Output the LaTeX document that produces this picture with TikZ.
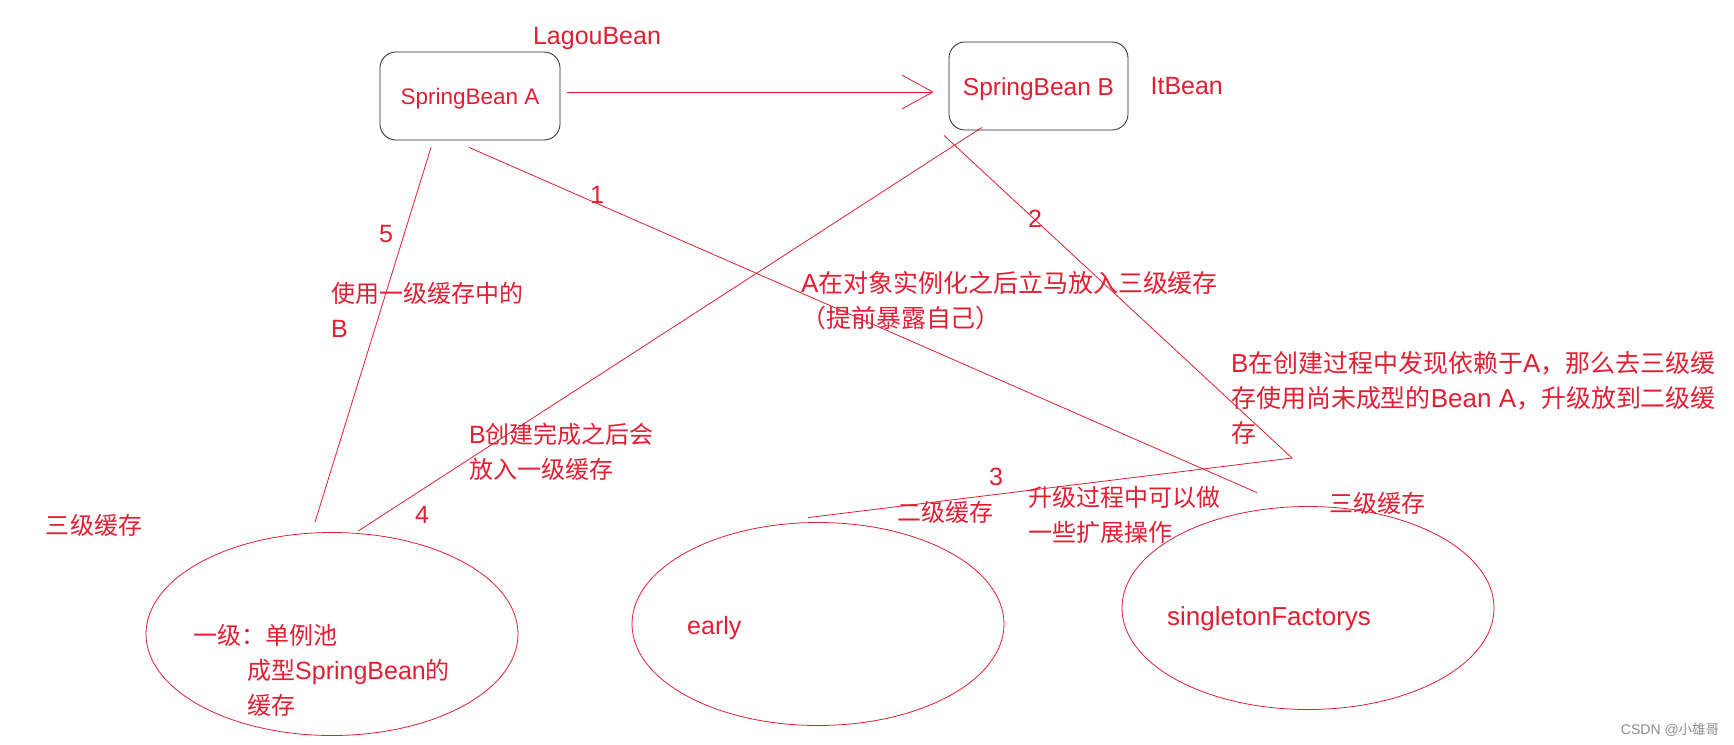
\documentclass[tikz,border=0pt]{standalone}
\usepackage{fontspec}
\setmainfont{Liberation Sans}
\newfontfamily\cjkfont[Scale=0.96]{Noto Sans CJK SC}
\newcommand{\zh}[1]{{\cjkfont #1}}
\usetikzlibrary{positioning,shapes.geometric,arrows.meta}
\definecolor{inkred}{RGB}{226,30,50}

\begin{document}
\begin{tikzpicture}[x=1pt, y=-1pt,
    every node/.style={font=\fontsize{25}{35}\selectfont, text=inkred, inner sep=0pt},
    bean/.style={draw=black!85, line width=0.8pt, rounded corners=16pt, minimum width=180pt, minimum height=88pt, font=\fontsize{22.5}{27}\selectfont, text height=21pt, text depth=4.7pt},
    pool/.style={draw=inkred, line width=0.8pt, ellipse, minimum width=372pt, minimum height=203pt},
    txt/.style={align=left, anchor=west},
    big/.style={font=\fontsize{26}{35}\selectfont},
    ln/.style={draw=inkred, line width=0.8pt}]
  \fill[white] (0,0) rectangle (1734,744);
  \useasboundingbox (0,0) rectangle (1734,744);
  % the two beans
  \node[bean] (A) at (470,96) {SpringBean A};
  \node[bean, minimum width=179pt, font=\fontsize{24.5}{29}\selectfont, text height=24pt, text depth=5.1pt] (B) at (1038.5,86) {SpringBean B};
  \node (lagou) at (597,38) {LagouBean};
  \node[right=22pt of B] (itb) {ItBean};
  % the three caches
  \node[pool] (E1) at (332,634) {};
  \node[pool] (E2) at (818,624) {};
  \node[pool] (E3) at (1308,608) {};
  \node[txt] (e1txt) at (193,670) {\zh{一级：单例池}\\\hspace*{54pt}\zh{成型}SpringBean\zh{的}\\\hspace*{54pt}\zh{缓存}};
  \node[txt] (e2txt) at (687,628) {early};
  \node[txt, big] (e3txt) at (1167,619) {singletonFactorys};
  \node (lvl3a) at (94,525) {\zh{三级缓存}};
  \node (lvl2) at (945,512) {\zh{二级缓存}};
  \node (lvl3b) at (1377,503) {\zh{三级缓存}};
  % steps
  \node (n1) at (597,195) {1};
  \node (n2) at (1035,219) {2};
  \node (n3) at (996,477) {3};
  \node (n4) at (422,515) {4};
  \node (n5) at (386,234) {5};
  \node[txt] (s5) at (331,309.5) {\zh{使用一级缓存中的}\\B};
  \node[txt, big] (s1) at (801,300.5) {A\zh{在对象实例化之后立马放入三级缓存}\\\zh{（提前暴露自己）}};
  \node[txt, big] (s2) at (1231,398) {B\zh{在创建过程中发现依赖于}A\zh{，那么去三级缓}\\\zh{存使用尚未成型的}Bean A\zh{，升级放到二级缓}\\\zh{存}};
  \node[txt] (s4) at (469,451.5) {B\zh{创建完成之后会}\\\zh{放入一级缓存}};
  \node[txt] (s3) at (1028,514.5) {\zh{升级过程中可以做}\\\zh{一些扩展操作}};
  \node[text=black!45, font=\fontsize{14}{16}\selectfont] (mark) at (1670,730) {CSDN @\zh{小雄哥}};
  % connectors
  \coordinate (turn) at (1292,458);
  \draw[ln, -{Straight Barb[length=31pt, width=34pt]}] ([shift={(7,-4)}]A.east) -- ([shift={(-15,6)}]B.west);
  \draw[ln] ([shift={(-39,7)}]A.south) -- ([shift={(-17,-10)}]E1.north);
  \draw[ln] ([shift={(-1,7)}]A.south) -- ([shift={(-51,-13.5)}]E3.north);
  \draw[ln] ([shift={(-56.5,-3)}]B.south) -- ([shift={(26,-1)}]E1.north);
  \draw[ln] ([shift={(-94.5,5)}]B.south) -- (turn) -- ([shift={(-10,-4.5)}]E2.north);
\end{tikzpicture}
\end{document}
